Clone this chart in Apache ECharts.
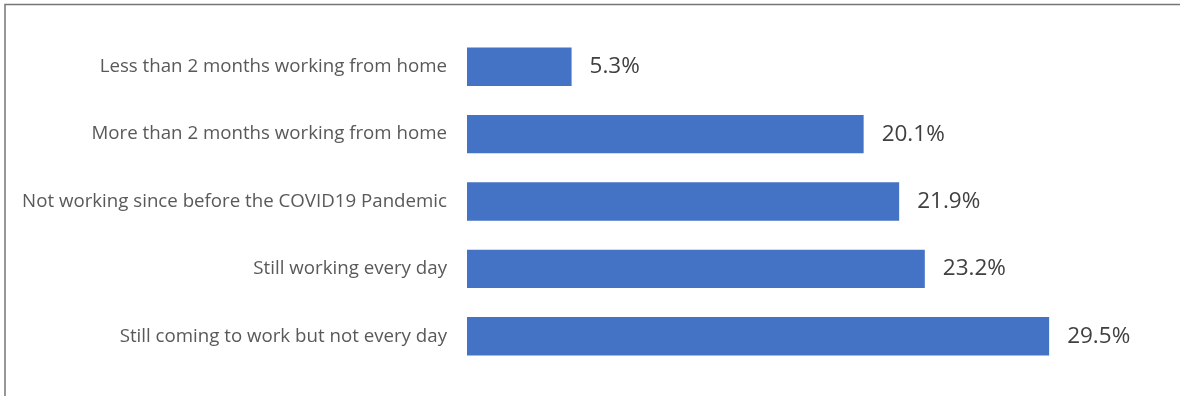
<!DOCTYPE html>
<html>
<head>
<meta charset="utf-8">
<script src="https://cdn.jsdelivr.net/npm/echarts@6/dist/echarts.min.js"></script>
<style>
html,body{margin:0;padding:0;background:#fff;}
#chart{width:1180px;height:396px;}
</style>
</head>
<body>
<div id="chart"></div>
<script>
const categories = [
  'Less than 2 months working from home',
  'More than 2 months working from home',
  'Not working since before the COVID19 Pandemic',
  'Still working every day',
  'Still coming to work but not every day'
];
const values = [5.3, 20.1, 21.9, 23.2, 29.5];

const chart = echarts.init(document.getElementById('chart'));
chart.setOption({
  animation: false,
  backgroundColor: '#ffffff',
  graphic: [{
    type: 'rect',
    shape: { x: 5, y: 4.5, width: 1300, height: 600 },
    style: { fill: 'none', stroke: '#767676', lineWidth: 1.5 },
    silent: true
  }],
  grid: { left: 467, top: 33, width: 592, height: 337, containLabel: false },
  xAxis: {
    type: 'value', min: 0, max: 30,
    show: false
  },
  yAxis: {
    type: 'category',
    data: categories,
    inverse: true,
    axisLine: { show: false },
    axisTick: { show: false },
    axisLabel: {
      margin: 20,
      color: '#595959',
      fontFamily: 'Open Sans',
      fontSize: 18.7
    }
  },
  series: [{
    type: 'bar',
    data: values,
    barCategoryGap: '43%',
    itemStyle: { color: '#4472C4' },
    label: {
      show: true,
      position: 'right',
      distance: 18,
      formatter: p => p.value.toFixed(1) + '%',
      color: '#404040',
      fontFamily: 'Open Sans',
      fontSize: 22.5
    }
  }]
});
</script>
</body>
</html>
